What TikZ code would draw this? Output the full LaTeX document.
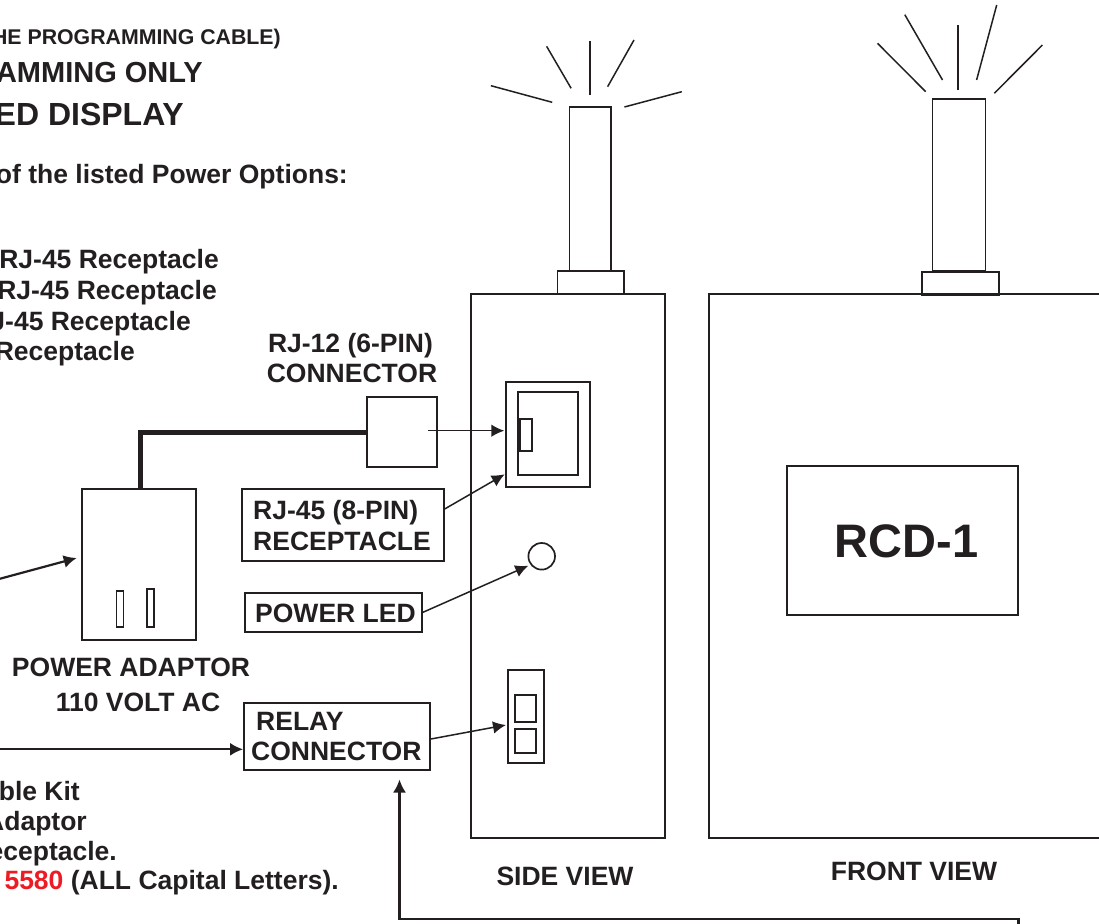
\documentclass[tikz,border=0pt]{standalone}
\usepackage{fontspec}
\setmainfont{Liberation Sans}
\usetikzlibrary{arrows.meta,positioning}
\definecolor{ink}{HTML}{231F20}
\definecolor{partnum}{HTML}{ED1C24}
\tikzset{part/.style={draw=ink, line width=1.7pt},
    label box/.style={draw=ink, line width=1.8pt, inner sep=0pt},
    ray/.style={draw=ink, line width=1.5pt},
    lead/.style={draw=ink, line width=1.5pt, -{Latex[length=13pt,width=12.5pt]}},
    heavy lead/.style={draw=ink, line width=2.2pt, -{Latex[length=13pt,width=13pt]}},
    caption/.style={font=\fontsize{26.5}{30}\selectfont\bfseries, text=ink, inner sep=0pt}}
\def\sideRect{(471,294) rectangle (665,838)}
\begin{document}
\begin{tikzpicture}[x=1pt,y=-1pt]
    \useasboundingbox (0,0) rectangle (1099,923);
    \clip (0,0) rectangle (1099,923);
    % text cut off by the left edge
    \node[caption, anchor=base east, font=\fontsize{21.3}{24}\selectfont\bfseries] (head a) at (281,45) {HE PROGRAMMING CABLE)};
    \node[caption, anchor=base east, font=\fontsize{29}{32}\selectfont\bfseries] (head b) at (203,83) {AMMING ONLY};
    \node[caption, anchor=base east, font=\fontsize{32}{35}\selectfont\bfseries] (head c) at (184,125.7) {ED DISPLAY};
    \node[caption, anchor=base east] (opts) at (348,183) {of the listed Power Options:};
    \node[caption, anchor=base east] (opt a) at (219,268.7) {RJ-45 Receptacle};
    \node[caption, anchor=base east] (opt b) at (217,299.5) {RJ-45 Receptacle};
    \node[caption, anchor=base east] (opt c) at (191,330.7) {J-45 Receptacle};
    \node[caption, anchor=base east] (opt d) at (135,360.7) {Receptacle};
    \node[caption, anchor=base east] (kit a) at (80,800) {ble Kit};
    \node[caption, anchor=base east] (kit b) at (87,830) {Adaptor};
    \node[caption, anchor=base east] (kit c) at (117,860) {eceptacle.};
    \node[caption, anchor=base east] (kit d) at (339,889) {\textcolor{partnum}{5580} (ALL Capital Letters).};
    % the two housings
    \draw[part] \sideRect;
    \draw[part] (1100,294) -- (709,294) -- (709,838) -- (1100,838);
    \node[part, minimum width=231pt, minimum height=149pt, inner sep=0pt] (rcd) at (902.5,540.5) {};
    \node[caption, font=\fontsize{47}{52}\selectfont\bfseries, anchor=base] (rcd name) at (906.5,557) {RCD-1};
    \node[caption, anchor=base] (side name) at (565,885) {SIDE VIEW};
    \node[caption, anchor=base] (front name) at (914,880) {FRONT VIEW};
    % antennas
    \draw[part] (569.5,107) rectangle (611,271);
    \draw[part] (557.5,271) rectangle (624,294.6);
    \draw[part] (932.5,98.7) rectangle (985.4,271);
    \draw[part] (922,272.3) rectangle (999,295);
    \draw[ray] (490.9,85.7) -- (552.2,102.3);
    \draw[ray] (546.6,46.3) -- (571.1,88.3);
    \draw[ray] (590,41) -- (590,95);
    \draw[ray] (634,40) -- (607.6,86.7);
    \draw[ray] (681.8,91.7) -- (624.4,107);
    \draw[ray] (877.5,43.3) -- (925.7,91.7);
    \draw[ray] (904.8,14.7) -- (942.5,80);
    \draw[ray] (957.8,25.3) -- (957.8,90);
    \draw[ray] (996.7,5) -- (976.6,80);
    \draw[ray] (1042.4,45) -- (994.3,93.3);
    % receptacle, led, relay socket
    \node[part, minimum width=84pt, minimum height=105.6pt, inner sep=0pt] (recept) at (548.3,434.5) {};
    \draw[part] (518.3,391.7) rectangle (578.3,475.3);
    \draw[part] (519.3,419) rectangle (532.3,451.3);
    \draw[ink, line width=2.8pt] (519.8,419) -- (519.8,451.3);
    \node[part, circle, minimum size=26.6pt, inner sep=0pt] (led) at (541.7,556.3) {};
    \node[part, minimum width=36pt, minimum height=93.6pt, inner sep=0pt] (relay) at (526.3,716.5) {};
    \draw[part] (515,695) rectangle (535.7,722);
    \draw[part] (515,729) rectangle (535.7,753.3);
    % labelled parts
    \node[caption, anchor=base] (rj12 a) at (350.5,352) {RJ-12 (6-PIN)};
    \node[caption, anchor=base] (rj12 b) at (352,382.7) {CONNECTOR};
    \node[part, minimum width=70pt, minimum height=70pt, inner sep=0pt] (plug) at (401.7,431.7) {};
    \node[label box, minimum width=201.7pt, minimum height=71.7pt] (rj45 box) at (342.9,524.9) {};
    \node[caption, anchor=base west] (rj45 a) at (253,519) {RJ-45 (8-PIN)};
    \node[caption, anchor=base west] (rj45 b) at (253,550) {RECEPTACLE};
    \node[label box, minimum width=176.7pt, minimum height=39.3pt] (led box) at (333.7,612.3) {};
    \node[caption, anchor=base west] (led name) at (255,622.7) {POWER LED};
    \node[label box, minimum width=186pt, minimum height=66.7pt] (relay box) at (337,736.7) {};
    \node[caption, anchor=base west] (relay a) at (256,730) {RELAY};
    \node[caption, anchor=base west] (relay b) at (251,760.7) {CONNECTOR};
    % adaptor
    \node[part, minimum width=114pt, minimum height=151pt, inner sep=0pt] (adaptor) at (139,564.5) {};
    \draw[part] (116.5,591) rectangle (123.5,627);
    \draw[part] (147,589.3) rectangle (154.3,627);
    \node[caption, anchor=base] (adaptor a) at (131,676.7) {POWER ADAPTOR};
    \node[caption, anchor=base] (adaptor b) at (138,711.7) {110 VOLT AC};
    \draw[ink, line width=5pt] ([xshift=1.3pt,yshift=-2pt]adaptor.north) |- ([yshift=-1pt]plug.west);
    % leads
    \coordinate (plug lead) at (428.3,430.7);
    \coordinate (recept in) at (504.3,430.7);
    \coordinate (recept tip) at (504.7,474.3);
    \coordinate (led tip) at (528.3,565.7);
    \coordinate (relay tip) at (506,725);
    \draw[lead] (plug lead) -- (recept in);
    \draw[lead] (rj45 box.east |- 0,509) -- (recept tip);
    \draw[lead] (led box.east) -- (led tip);
    \draw[lead] (relay box.east |- 0,739) -- (relay tip);
    \coordinate (left a) at (-1,579);
    \coordinate (left b) at (-1,749.3);
    \coordinate (adaptor tip) at (76.7,558);
    \draw[heavy lead] (left a) -- (adaptor tip);
    \draw[heavy lead] (left b) -- (relay box.west |- 0,749.3);
    \coordinate (run a) at (1018.5,925);
    \coordinate (run b) at (1018.5,919.3);
    \coordinate (run c) at (399.5,919.3);
    \coordinate (run d) at (399.5,779.5);
    \draw[heavy lead] (run a) -- (run b) -- (run c) -- (run d);
\end{tikzpicture}
\end{document}
